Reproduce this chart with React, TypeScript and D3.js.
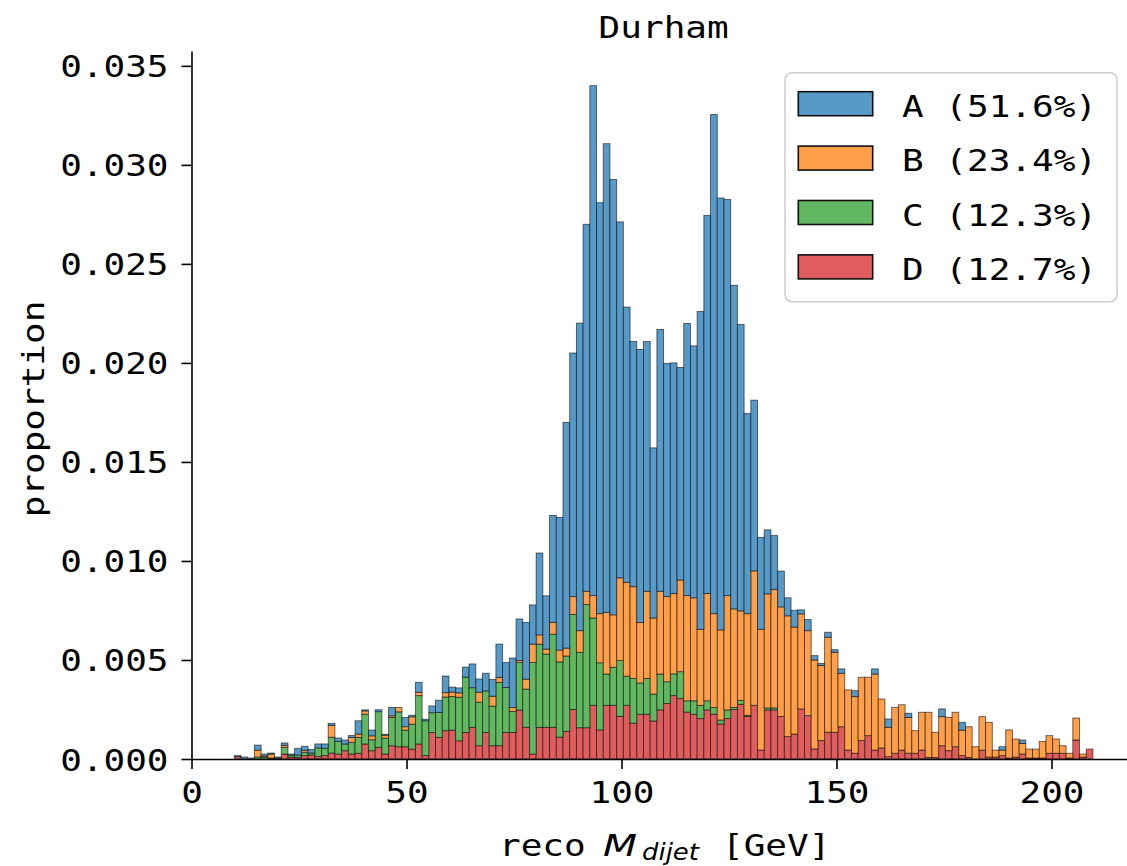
import React, { useEffect, useRef } from "react";
import * as d3 from "d3";

// Histogram binning (GeV)
const BIN_START = 9.95;
const BIN_WIDTH = 1.56;

// Stacked proportions per bin
const seriesA = [
  0.00005, 0.0001, 0.00005, 0.00025, 0.0001, 0.00005, 0.00005, 0.00012, 0.00005, 0.00034,
  0.0002, 0.00018, 0.0002, 0.00022, 0.0001, 0.00017, 0.0002, 0.0001, 0.00067, 0.00005,
  0.00029, 0.0001, 0.00005, 0.00042, 0, 0.00047, 0.00008, 0.0005, 0.00008, 0.00034,
  0.00062, 0.00084, 0.00025, 0.00025, 0.0005, 0.0012, 0.00067, 0.00089, 0.00084, 0.00168,
  0.00126, 0.0025, 0.0021, 0.00286, 0.00198, 0.00413, 0.00269, 0.0054, 0.0067, 0.0114,
  0.0123, 0.01553, 0.01853, 0.02575, 0.02075, 0.02366, 0.02198, 0.01797, 0.0139, 0.01238,
  0.01379, 0.01261, 0.00859, 0.01322, 0.01177, 0.01164, 0.01073, 0.01374, 0.01272, 0.01605,
  0.01909, 0.0252, 0.02181, 0.02, 0.01634, 0.01446, 0.0101, 0.00862, 0.00464, 0.00323,
  0.00271, 0.00181, 0.00091, 0.00085, 0.0002, 0.00056, 0.00022, 0.00011, 0.00025, 0.00013,
  0.00022, 0, 0.0003, 0, 0, 0.00026, 0, 0.00042, 0, 0,
  0.00021, 0, 0, 0, 0, 0.00039, 0, 0, 0.00039, 0,
  0, 0, 0, 0, 0.00017, 0, 0, 0.00017, 0, 0,
  0, 0, 0, 0, 0, 0, 0, 0,
];

const seriesB = [
  0, 0, 0, 0.00035, 0.00005, 0.0002, 0, 0.0001, 0, 0,
  0.0001, 0, 0, 0, 0.0006, 0, 0, 0.00025, 0.00017, 0.00017,
  0.0002, 0, 0.00015, 0.00008, 0.00022, 0.00017, 0.00037, 0.00017, 0, 0,
  0, 0.00022, 0.00022, 0.00022, 0, 0, 0.0005, 0, 0.0005, 0.00025,
  0, 0.0002, 0.0001, 0.0005, 0.00093, 0.00047, 0.00025, 0.0006, 0.0006, 0.0004,
  0.0009, 0.0011, 0.00067, 0.00113, 0.00248, 0.00312, 0.00265, 0.00418, 0.00474, 0.00463,
  0.00305, 0.0044, 0.00384, 0.00418, 0.0043, 0.00406, 0.00463, 0.00531, 0.0052, 0.00384,
  0.00542, 0.00474, 0.00455, 0.00577, 0.00498, 0.00452, 0.00514, 0.00679, 0.0061, 0.00576,
  0.00599, 0.00553, 0.0061, 0.0054, 0.0048, 0.00429, 0.00449, 0.00379, 0.0048, 0.00404,
  0.0027, 0.00304, 0.00286, 0.0032, 0.00295, 0.00384, 0.00247, 0.00148, 0.00232, 0.00229,
  0.00181, 0.00114, 0.00191, 0.00228, 0.00127, 0.00147, 0.00168, 0.00174, 0.00129, 0.00155,
  0.00062, 0.00169, 0.00175, 0.00035, 0.00028, 0.00142, 0.00091, 0.00054, 0.00045, 0.00045,
  0.00084, 0.00089, 0.00072, 0.00038, 0.00024, 0.00111, 0.00015, 0,
];

const seriesC = [
  0, 0, 0, 0.0001, 0.0001, 0, 0.00005, 0.00034, 0.0001, 0.00012,
  0.00017, 0.0001, 0.00044, 0.00037, 0.0008, 0.00064, 0.00034, 0.00059, 0.0008, 0.0015,
  0.00055, 0.0018, 0.0008, 0.00143, 0.00176, 0.00084, 0.00126, 0.00244, 0.00176, 0.001,
  0.00126, 0.0017, 0.0017, 0.0022, 0.0028, 0.002, 0.0022, 0.0021, 0.002, 0.0032,
  0.00227, 0.00106, 0.0024, 0.00193, 0.00462, 0.0042, 0.0037, 0.0047, 0.0038, 0.0038,
  0.0048, 0.0038, 0.00622, 0.00441, 0.00339, 0.00158, 0.00192, 0.00282, 0.00147, 0.00226,
  0.00158, 0.00181, 0.00136, 0.00181, 0.0011, 0.0011, 0.00136, 0.00057, 0.00068, 0.00067,
  0.00046, 0.00034, 0.0002, 0.00044, 0.0001, 0.0002, 0.00005, 0, 0, 0.0001,
  0.0001, 0, 0, 0, 0, 0, 0, 0, 0, 0,
  0, 0, 0, 0, 0, 0, 0, 0, 0, 0,
  0, 0, 0, 0, 0, 0, 0, 0, 0, 0,
  0, 0, 0, 0, 0, 0, 0, 0, 0, 0,
  0, 0, 0, 0, 0, 0, 0, 0,
];

const seriesD = [
  0.00012, 0, 0, 0, 0, 0.00005, 0, 0.00025, 0.0001, 0.00008,
  0.00017, 0.0002, 0.00012, 0.00017, 0.0003, 0.00025, 0.00042, 0.00025, 0.00029, 0.00076,
  0.00042, 0.00059, 0.00025, 0.00067, 0.00062, 0.00062, 0.0005, 0.00076, 0.00017, 0.00134,
  0.00109, 0.00143, 0.00146, 0.00092, 0.00134, 0.0016, 0.00067, 0.00134, 0.00067, 0.00067,
  0.00134, 0.00134, 0.00247, 0.0016, 0.00025, 0.0016, 0.0016, 0.0016, 0.0011, 0.0014,
  0.0025, 0.00158, 0.00158, 0.00271, 0.00147, 0.00271, 0.00271, 0.00215, 0.00271, 0.00181,
  0.00226, 0.00226, 0.00192, 0.00248, 0.0028, 0.0032, 0.00305, 0.00237, 0.00226, 0.00204,
  0.00248, 0.00226, 0.00177, 0.00204, 0.0025, 0.00276, 0.00215, 0.00271, 0.00045, 0.00248,
  0.00248, 0.00215, 0.00113, 0.00126, 0.00253, 0.00219, 0.00051, 0.00093, 0.00135, 0.00135,
  0.00163, 0.00045, 0.00029, 0.00093, 0.00118, 0.00045, 0.00056, 0.00012, 0.00029, 0.00045,
  0.00029, 0.00029, 0.00045, 0.00008, 0.00008, 0.00067, 0.00042, 0.00062, 0.00017, 0.00008,
  0, 0.00045, 0.0001, 0.0001, 0.00017, 0.00005, 0.0001, 0.00025, 0.00005, 0.00005,
  0.00005, 0.00029, 0.00029, 0.00029, 0.00005, 0.00096, 0.0001, 0.0005,
];

const seriesKeys = ["A", "B", "C", "D"];
const legendLabels = ["A (51.6%)", "B (23.4%)", "C (12.3%)", "D (12.7%)"];
const yTicks = [0, 0.005, 0.01, 0.015, 0.02, 0.025, 0.03, 0.035];
const xTicks = [0, 50, 100, 150, 200];
const titleText = "Durham";
const yLabelText = "proportion";

const COLORS: Record<string, string> = {
  A: "rgb(87,153,199)",
  B: "rgb(255,159,74)",
  C: "rgb(97,184,97)",
  D: "rgb(224,93,94)",
};

const MONO = "'DejaVu Sans Mono', monospace";
const SANS = "'DejaVu Sans', sans-serif";
const FS = 30;
const PITCH = 21.67;

export default function App() {
  const ref = useRef<SVGSVGElement>(null);

  useEffect(() => {
    const svg = d3.select(ref.current);
    svg.selectAll("*").remove();

    const x = d3.scaleLinear().domain([0, 219.6]).range([191.5, 1135.8]);
    const y = d3.scaleLinear().domain([0, 0.03575]).range([759, 51]);

    const rows = seriesA.map((_, i) => ({
      x0: BIN_START + i * BIN_WIDTH,
      A: seriesA[i],
      B: seriesB[i],
      C: seriesC[i],
      D: seriesD[i],
    }));
    const stack = d3.stack<any>().keys(["D", "C", "B", "A"]);
    const layers = stack(rows);

    const bars = svg.append("g");
    layers.forEach((layer) => {
      const data = layer.filter((d) => d[1] - d[0] > 1e-9);
      bars
        .append("g")
        .selectAll("rect")
        .data(data)
        .join("rect")
        .attr("x", (d: any) => x(d.data.x0))
        .attr("width", (d: any) => x(d.data.x0 + BIN_WIDTH) - x(d.data.x0))
        .attr("y", (d: any) => y(d[1]))
        .attr("height", (d: any) => y(d[0]) - y(d[1]))
        .attr("fill", COLORS[layer.key])
        .attr("stroke", "#000")
        .attr("stroke-opacity", 0.6)
        .attr("stroke-width", 0.9);
    });

    const styleText = (sel: any) =>
      sel
        .attr("font-family", MONO)
        .attr("font-size", FS)
        .attr("fill", "#000")
        .attr("lengthAdjust", "spacingAndGlyphs")
        .attr("textLength", function (this: any) {
          return (this.textContent || "").length * PITCH;
        });

    // Y axis
    const ya = svg
      .append("g")
      .attr("transform", "translate(191.5,0)")
      .call(
        d3
          .axisLeft(y)
          .tickValues(yTicks)
          .tickFormat(d3.format(".3f") as any)
          .tickSize(10)
          .tickSizeOuter(0)
      );
    ya.attr("font-family", null).attr("font-size", null);
    ya.select(".domain").attr("stroke-width", 1.6);
    ya.selectAll(".tick line").attr("stroke-width", 1.6);
    styleText(ya.selectAll(".tick text").attr("x", -23).attr("dy", null).attr("y", 11));

    // X axis
    const xa = svg
      .append("g")
      .attr("transform", "translate(0,759)")
      .call(
        d3
          .axisBottom(x)
          .tickValues(xTicks)
          .tickFormat(d3.format("d") as any)
          .tickSize(10)
          .tickSizeOuter(0)
      );
    xa.attr("font-family", null).attr("font-size", null);
    xa.select(".domain").attr("stroke-width", 1.6);
    xa.selectAll(".tick line").attr("stroke-width", 1.6);
    styleText(xa.selectAll(".tick text").attr("dy", null).attr("y", 44));

    // Title
    styleText(
      svg
        .append("text")
        .attr("x", (x.range()[0] + x.range()[1]) / 2)
        .attr("y", 38)
        .attr("text-anchor", "middle")
        .text(titleText)
    );

    // Y label
    styleText(
      svg
        .append("text")
        .attr("transform", `translate(43.5,${(y.range()[0] + y.range()[1]) / 2 + 4}) rotate(-90)`)
        .attr("text-anchor", "middle")
        .text(yLabelText)
    );

    // X label: reco M_dijet [GeV]
    const xl = svg.append("g");
    styleText(xl.append("text").attr("x", 499).attr("y", 856).text("reco"));
    xl.append("text")
      .attr("x", 603)
      .attr("y", 856)
      .attr("font-family", SANS)
      .attr("font-style", "italic")
      .attr("font-size", 31)
      .attr("textLength", 34)
      .attr("lengthAdjust", "spacingAndGlyphs")
      .attr("fill", "#000")
      .text("M");
    xl.append("text")
      .attr("x", 642)
      .attr("y", 860)
      .attr("font-family", SANS)
      .attr("font-style", "italic")
      .attr("font-size", 23)
      .attr("textLength", 57)
      .attr("lengthAdjust", "spacingAndGlyphs")
      .attr("fill", "#000")
      .text("dijet");
    styleText(xl.append("text").attr("x", 722).attr("y", 856).text("[GeV]"));

    // Legend
    const lg = svg.append("g");
    lg.append("rect")
      .attr("x", 785)
      .attr("y", 72.7)
      .attr("width", 332)
      .attr("height", 229)
      .attr("rx", 7)
      .attr("fill", "#fff")
      .attr("fill-opacity", 0.8)
      .attr("stroke", "#cccccc")
      .attr("stroke-width", 1.5);
    seriesKeys.forEach((k, i) => {
      const top = 91.7 + i * 54.4;
      lg.append("rect")
        .attr("x", 798.3)
        .attr("y", top)
        .attr("width", 74.4)
        .attr("height", 24)
        .attr("fill", COLORS[k])
        .attr("stroke", "#111")
        .attr("stroke-width", 1.6);
      styleText(lg.append("text").attr("x", 902).attr("y", top + 25).text(legendLabels[i]));
    });
  }, []);

  return (
    <svg
      ref={ref}
      width={1127}
      height={866}
      style={{ position: "absolute", left: 0, top: 0, background: "#fff" }}
    />
  );
}
